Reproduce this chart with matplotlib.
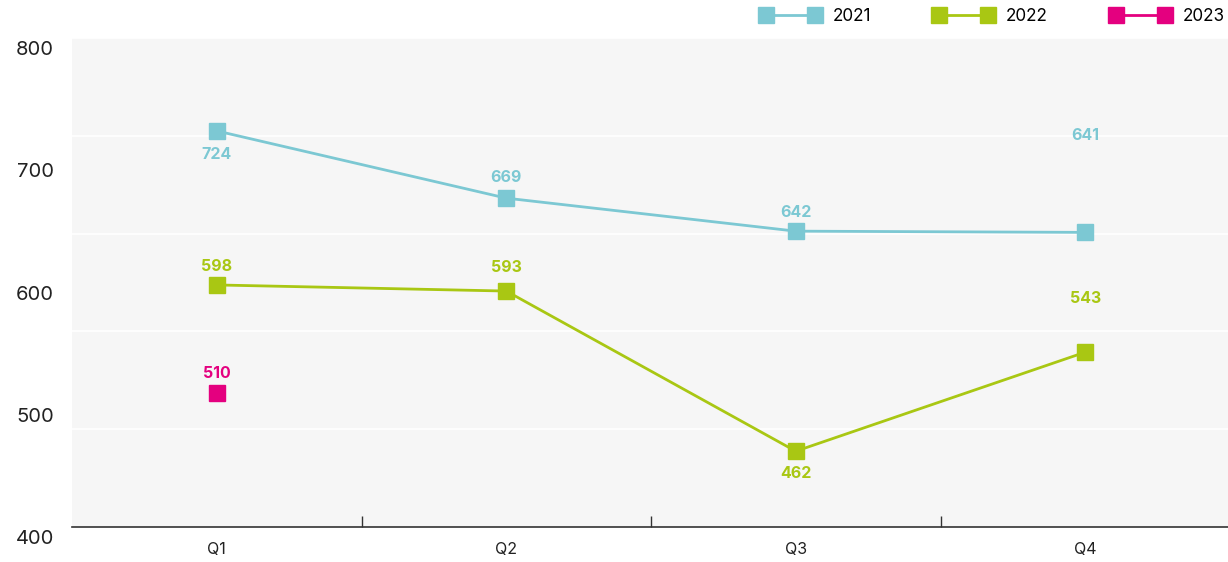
import matplotlib
matplotlib.use('Agg')
import matplotlib.pyplot as plt
import matplotlib.transforms as mtransforms
from matplotlib.lines import Line2D

# datos
trimestres = ['Q1', 'Q2', 'Q3', 'Q4']
serie_2021 = [724, 669, 642, 641]
serie_2022 = [598, 593, 462, 543]
serie_2023 = [510]
anios = ['2021', '2022', '2023']
y_ticks = [400, 500, 600, 700, 800]

colores = ['#7cc8d3', '#a9c713', '#e4007f']
# desplazamiento vertical de las etiquetas (px, positivo = arriba)
offs_2021 = [-24, 21, 19, 97]
offs_2022 = [18, 24, -22, 54]
offs_2023 = [19]

plt.rcParams['font.family'] = ['Inter', 'DejaVu Sans']

fig = plt.figure(figsize=(12.28, 5.62), dpi=100)
ax = fig.add_axes([72 / 1228, 35 / 562, 1158 / 1228, 489 / 562])
ax.set_facecolor('#f6f6f6')

for v in [480, 560, 640, 720, 800]:
    ax.axhline(v, color='white', lw=1.2, zorder=1)

series = [serie_2021, serie_2022, serie_2023]
offsets = [offs_2021, offs_2022, offs_2023]
for vals, offs, c in zip(series, offsets, colores):
    x = list(range(len(vals)))
    ax.plot(x, vals, color=c, lw=2, marker='s', markersize=12,
            zorder=3, clip_on=False)
    for xi, v, o in zip(x, vals, offs):
        ax.annotate(str(v), (xi, v), xytext=(0, o * 0.72),
                    textcoords='offset points', ha='center', va='center',
                    fontsize=11.5, fontweight='bold', color=c, zorder=4)

ax.set_xlim(-0.5, 3.5)
ax.set_ylim(400, 800)
ax.set_xticks(range(4))
ax.set_xticklabels(trimestres, fontsize=11.5, color='#222222')
ax.set_xticks([0.5, 1.5, 2.5], minor=True)
ax.tick_params(axis='x', which='major', length=0, pad=11)
ax.tick_params(axis='x', which='minor', direction='in', length=8,
               width=1, color='#333333')

ax.set_yticks(y_ticks)
ax.set_yticklabels([str(t) for t in y_ticks], fontsize=14.5, color='#222222',
                   va='top')
ax.tick_params(axis='y', length=0, pad=13)
# bajar un poco las etiquetas del eje y
bajar = mtransforms.ScaledTranslation(0, -3 / 100, fig.dpi_scale_trans)
for lbl in ax.get_yticklabels():
    lbl.set_transform(lbl.get_transform() + bajar)

for s in ['top', 'right', 'left']:
    ax.spines[s].set_visible(False)
ax.spines['bottom'].set_color('#333333')
ax.spines['bottom'].set_linewidth(1.2)

handles = [Line2D([0], [0], color=c, lw=2, marker='s', markersize=12)
           for c in colores]
fig.legend(handles, anios, loc='upper right', bbox_to_anchor=(1.010, 1.013),
           ncol=3, numpoints=2, frameon=False, handlelength=3.45,
           columnspacing=3.7, handletextpad=0.75, fontsize=12.3)

fig.savefig('out.png', dpi=100)
